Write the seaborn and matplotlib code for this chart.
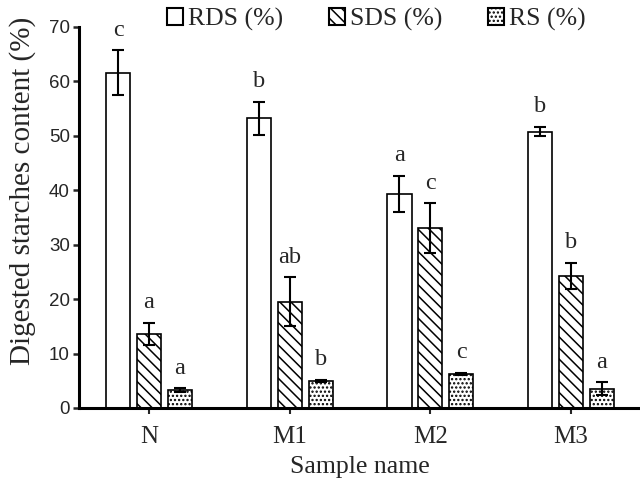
import matplotlib
matplotlib.use("Agg")
import matplotlib.pyplot as plt
import seaborn as sns
import pandas as pd
import numpy as np

samples = ["N", "M1", "M2", "M3"]
series = ["RDS (%)", "SDS (%)", "RS (%)"]
rds = [61.6, 53.2, 39.3, 50.8]
sds = [13.6, 19.5, 33.0, 24.3]
rs = [3.3, 5.0, 6.2, 3.5]
rds_err = [4.1, 3.0, 3.3, 0.9]
sds_err = [2.1, 4.5, 4.6, 2.4]
rs_err = [0.3, 0.2, 0.2, 1.2]
rds_sig = ["c", "b", "a", "b"]
sds_sig = ["a", "ab", "c", "b"]
rs_sig = ["a", "b", "c", "a"]
yticks = [0, 10, 20, 30, 40, 50, 60, 70]

vals = [rds, sds, rs]
errs = [rds_err, sds_err, rs_err]
sigs = [rds_sig, sds_sig, rs_sig]
rows = []
for s, v, e, g in zip(series, vals, errs, sigs):
    for i, smp in enumerate(samples):
        rows.append({"Sample": smp, "Series": s, "Value": v[i], "Err": e[i], "Sig": g[i]})
df = pd.DataFrame(rows)

sns.set_style("white")
plt.rcParams["hatch.linewidth"] = 1.1
serif = ["Liberation Serif", "DejaVu Serif"]
sans = ["Liberation Sans", "DejaVu Sans"]

fig = plt.figure(figsize=(6.4, 4.86), dpi=100)
ax = fig.add_axes([79 / 640, 1 - 408 / 486, 1 - 79 / 640, (408 - 27) / 486])

sns.barplot(data=df, x="Sample", y="Value", hue="Series", order=samples,
            hue_order=series, palette=["white"] * 3, edgecolor="black",
            linewidth=1.2, width=0.66, gap=0.22, errorbar=None, ax=ax,
            saturation=1)

hatches = ["", "\\\\\\", "...."]
containers = ax.containers
for c, h, s in zip(containers, hatches, series):
    sub = df[df["Series"] == s].set_index("Sample").loc[samples]
    for bar, (_, r) in zip(c.patches, sub.iterrows()):
        bar.set_hatch(h)
        cx = bar.get_x() + bar.get_width() / 2
        top = bar.get_height()
        ax.errorbar(cx, top, yerr=r["Err"], color="black", lw=1.5,
                    capsize=4, capthick=1.5, zorder=5)
        ax.annotate(r["Sig"], (cx, top + r["Err"]), xytext=(0, 7),
                    textcoords="offset points", ha="center", va="bottom",
                    fontsize=17.5, family=serif)

ax.set_ylim(0, 70)
ax.set_xlim(-0.498, 3.49)
ax.set_yticks(yticks)
ax.set_yticklabels([str(t) for t in yticks], family=sans, fontsize=13.5)
ax.set_xticks(range(len(samples)))
ax.set_xticklabels(samples, family=serif, fontsize=18)
ax.set_xlabel("Sample name", family=serif, fontsize=18.5, labelpad=6)
ax.set_ylabel("Digested starches content (%)", family=serif, fontsize=21)
ax.yaxis.set_label_coords(-0.077, 0.57)
for sp in ["top", "right"]:
    ax.spines[sp].set_visible(False)
for sp in ["left", "bottom"]:
    ax.spines[sp].set_linewidth(2.2)
    ax.spines[sp].set_color("black")
ax.tick_params(axis="y", direction="out", length=4.5, width=1.8, left=True, pad=2)
ax.tick_params(axis="x", direction="out", length=4, width=1.5, bottom=True, pad=9)

leg = ax.legend(loc="center", bbox_to_anchor=(0.530, 1.02), ncol=3,
                frameon=False, handlelength=0.6, handleheight=0.6,
                handletextpad=0.2, columnspacing=1.8,
                prop={"family": serif, "size": 18.5})
for hnd, h in zip(leg.legend_handles, hatches):
    hnd.set_hatch(h)
    hnd.set_edgecolor("black")
    hnd.set_linewidth(1.5)

fig.savefig("out.png", dpi=100)
